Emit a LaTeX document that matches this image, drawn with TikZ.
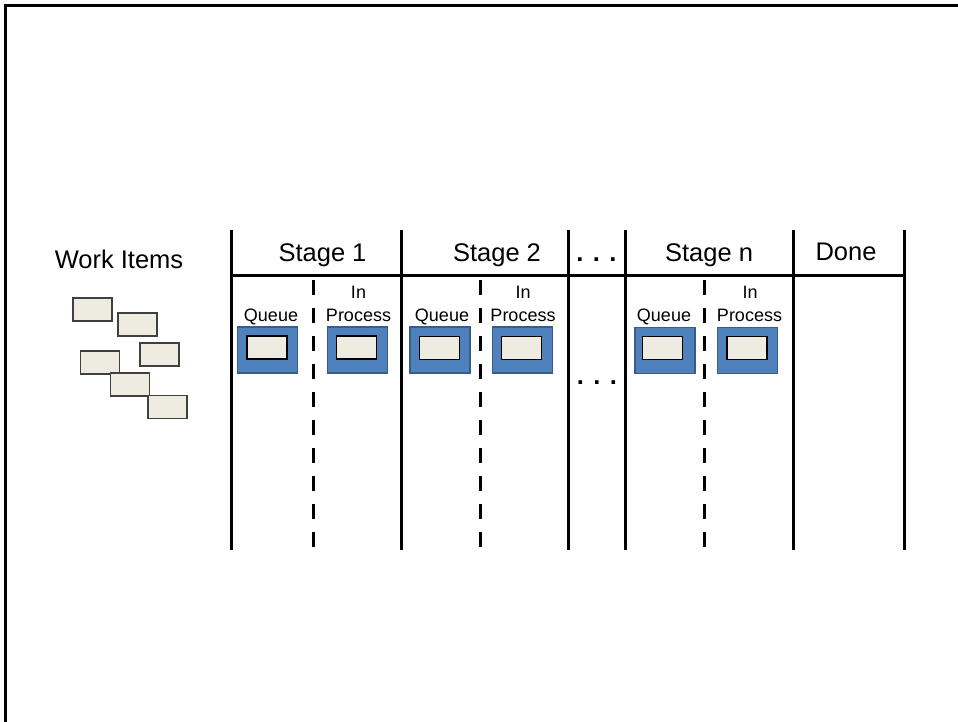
\documentclass[tikz,border=0pt]{standalone}
\usepackage{fontspec}
\setmainfont{Liberation Sans}
\definecolor{itemfill}{HTML}{EEECE1}
\definecolor{qblue}{HTML}{4F81BD}
\definecolor{qborder}{HTML}{385D8A}
\begin{document}
\begin{tikzpicture}[x=1pt,y=-1pt,
  big/.style={font=\fontsize{25.5}{30}\selectfont, inner sep=0pt, anchor=base},
  dots/.style={font=\fontsize{25.5}{30}\selectfont\bfseries, inner sep=0pt, anchor=base},
  small/.style={font=\fontsize{18}{21}\selectfont, inner sep=0pt, anchor=base},
  wall/.style={line width=3pt},
  divider/.style={line width=3pt, dash pattern=on 15pt off 13pt},
  queuebox/.style={fill=qblue, draw=qborder, line width=1.5pt, minimum width=60pt, minimum height=46pt, inner sep=0pt},
  item/.style={fill=itemfill, draw=black!75, line width=1.6pt, minimum width=39pt, minimum height=23pt, inner sep=0pt},
  inneritem/.style={fill=itemfill, draw=black, line width=1.5pt, minimum width=40pt, minimum height=23pt, inner sep=0pt},
]
\useasboundingbox (0,0) rectangle (958,721);
% frame
\coordinate (fbl) at (5.5,730);
\coordinate (ftl) at (5.5,5.5);
\coordinate (ftr) at (965,5.5);
\draw[line width=3pt] (fbl) -- (ftl) -- (ftr);

% work items
\node[big] (wi) at (119,268) {Work Items};
\node[item] (w1) at (92.3,309.7) {};
\node[item] (w2) at (137.3,324.5) {};
\node[item] (w3) at (159.7,354.5) {};
\node[item] (w4) at (99.8,362.2) {};
\node[item] (w5) at (129.8,384.5) {};
\node[item] (w6) at (167.3,407) {};

% walls
\foreach \n/\x in {a/231,b/401,c/568,d/625,e/793,f/904}{
  \coordinate (top\n) at (\x,230);
  \coordinate (bot\n) at (\x,550);
  \draw[wall] (top\n) -- (bot\n);
}
\coordinate (hl) at (229.5,275);
\coordinate (hr) at (905.5,275);
\draw[wall] (hl) -- (hr);

% dividers
\foreach \n/\x in {a/313,b/480,c/704}{
  \coordinate (dt\n) at (\x,280);
  \coordinate (db\n) at (\x,547);
  \draw[divider] (dt\n) -- (db\n);
}

% headers
\node[big] (s1) at (322.5,261) {Stage 1};
\node[big] (s2) at (497,261) {Stage 2};
\node[dots] (hdots) at (596.5,261) {. . .};
\node[big] (sn) at (709,261) {Stage n};
\node[big] (done) at (846,260) {Done};
\node[dots] (mdots) at (597,384) {. . .};

% sub labels
\node[small] (q1) at (271,321.5) {Queue};
\node[small] (i1) at (358.5,298.5) {In};
\node[small] (p1) at (358.5,321.5) {Process};
\node[small] (q2) at (442,321) {Queue};
\node[small] (i2) at (523,298) {In};
\node[small] (p2) at (523,321) {Process};
\node[small] (qn) at (664,321.5) {Queue};
\node[small] (in) at (750,298.5) {In};
\node[small] (pn) at (749.5,321.5) {Process};

% blue boxes with items
\node[queuebox] (bq1) at (267.5,350) {};
\node[inneritem] (iq1) at (267,347.5) {};
\node[queuebox] (bp1) at (357.5,350) {};
\node[inneritem] (ip1) at (356.5,347.5) {};
\node[queuebox] (bq2) at (440,350) {};
\node[inneritem] (iq2) at (439.5,348) {};
\node[queuebox] (bp2) at (522.5,350) {};
\node[inneritem] (ip2) at (521.5,348) {};
\node[queuebox] (bqn) at (665,350.5) {};
\node[inneritem] (iqn) at (662.5,348) {};
\node[queuebox] (bpn) at (747.5,350.5) {};
\node[inneritem] (ipn) at (747,348) {};
\end{tikzpicture}
\end{document}
